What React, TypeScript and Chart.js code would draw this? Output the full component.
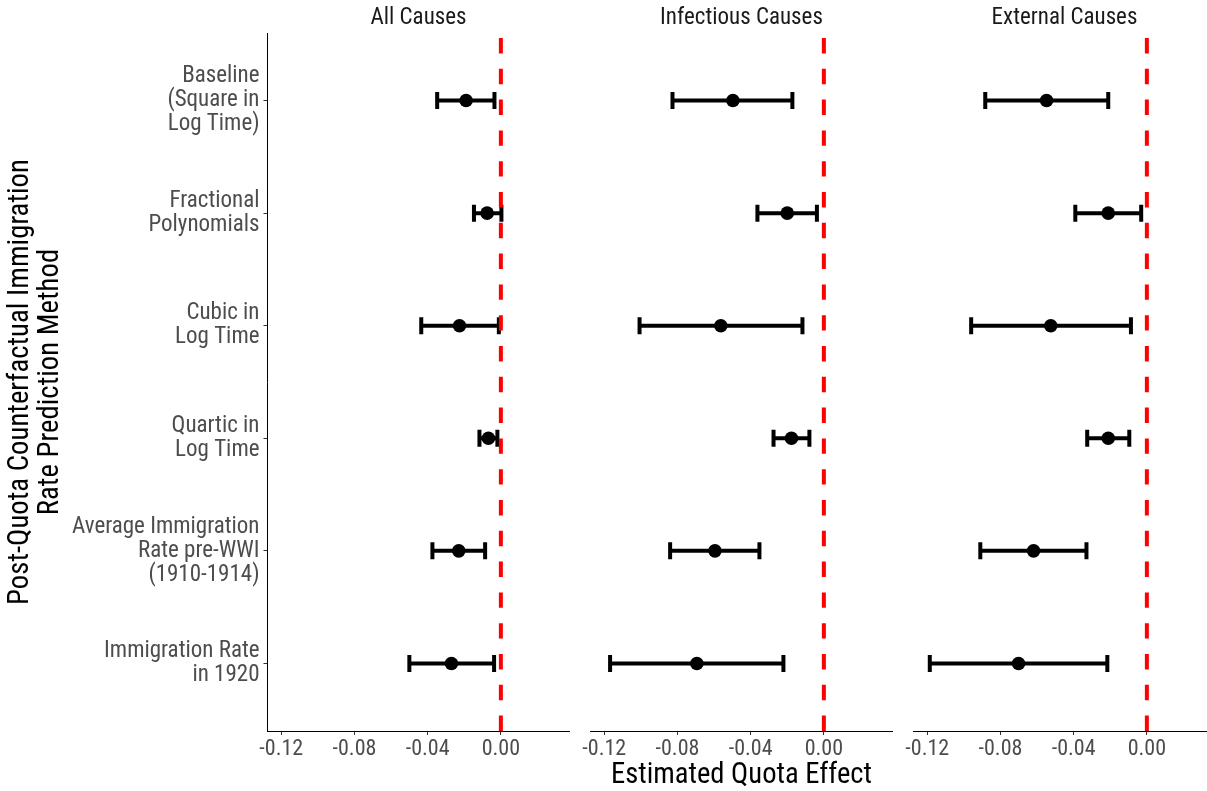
import React, { useEffect, useRef } from 'react';
import { Chart, registerables } from 'chart.js';

Chart.register(...registerables);

const FONT = '"Roboto Condensed", "Liberation Sans Narrow", "DejaVu Sans Condensed", Roboto, sans-serif';

// ---- data ----
const panelTitles = ['All Causes', 'Infectious Causes', 'External Causes'];

const categoryLabels: string[][] = [
  ['Baseline', '(Square in', 'Log Time)'],
  ['Fractional', 'Polynomials'],
  ['Cubic in', 'Log Time'],
  ['Quartic in', 'Log Time'],
  ['Average Immigration', 'Rate pre-WWI', '(1910-1914)'],
  ['Immigration Rate', 'in 1920'],
];

const allEst = [-0.0190, -0.0075, -0.0226, -0.0068, -0.0230, -0.0270];
const allLo = [-0.0348, -0.0147, -0.0435, -0.0117, -0.0374, -0.0500];
const allHi = [-0.0035, 0.0003, -0.0011, -0.0019, -0.0086, -0.0037];

const infEst = [-0.0497, -0.0200, -0.0563, -0.0177, -0.0595, -0.0694];
const infLo = [-0.0827, -0.0363, -0.1007, -0.0275, -0.0840, -0.1168];
const infHi = [-0.0172, -0.0038, -0.0117, -0.0079, -0.0352, -0.0221];

const extEst = [-0.0548, -0.0211, -0.0525, -0.0211, -0.0619, -0.0701];
const extLo = [-0.0883, -0.0391, -0.0960, -0.0326, -0.0910, -0.1186];
const extHi = [-0.0211, -0.0031, -0.0087, -0.0096, -0.0330, -0.0216];

const xTicks = [-0.12, -0.08, -0.04, 0.0];
const xTitle = 'Estimated Quota Effect';
const yTitle = ['Post-Quota Counterfactual Immigration', 'Rate Prediction Method'];
const refLine = 0;

const panelData = [
  { est: allEst, lo: allLo, hi: allHi },
  { est: infEst, lo: infLo, hi: infHi },
  { est: extEst, lo: extLo, hi: extHi },
];

// ---- layout ----
const W = 1245;
const H = 791;
const panelLeft = [267.5, 590.5, 913.5];
const panelWidth = 302;
const X_MIN = -0.1275;
const X_MAX = 0.0375;
const Y_MIN = -0.6;
const Y_MAX = categoryLabels.length - 1 + 0.6;

function buildConfig(p: number): any {
  const { est, lo, hi } = panelData[p];
  const datasets: any[] = [];

  datasets.push({
    data: [
      { x: refLine, y: Y_MAX },
      { x: refLine, y: Y_MIN },
    ],
    showLine: true,
    borderColor: '#FF0000',
    borderWidth: 4,
    borderDash: [15.4, 15.4],
    pointRadius: 0,
    order: 0,
  });

  est.forEach((v, i) => {
    datasets.push({
      data: [
        { x: lo[i], y: i },
        { x: hi[i], y: i },
      ],
      showLine: true,
      borderColor: '#000000',
      borderWidth: 4,
      pointStyle: 'line',
      rotation: 90,
      pointRotation: 90,
      pointRadius: 8.5,
      pointBorderWidth: 4,
      pointBorderColor: '#000000',
      pointBackgroundColor: '#000000',
      order: 2,
    });
  });

  datasets.push({
    data: est.map((v, i) => ({ x: v, y: i })),
    showLine: false,
    pointRadius: 6.8,
    pointBorderWidth: 0,
    pointBackgroundColor: '#000000',
    pointBorderColor: '#000000',
    order: 1,
  });

  const left = p === 0 ? 0 : panelLeft[p];
  const right = W - panelLeft[p] - panelWidth;

  const yScale: any = {
    type: 'linear',
    display: p === 0,
    min: Y_MIN,
    max: Y_MAX,
    reverse: true,
    afterBuildTicks: (s: any) => {
      s.ticks = categoryLabels.map((_, i) => ({ value: i }));
    },
    ticks: {
      callback: (v: any) => categoryLabels[Math.round(Number(v))],
      color: '#4D4D4D',
      font: { family: FONT, size: 23, lineHeight: '24px' },
      padding: 4,
      autoSkip: false,
    },
    grid: { drawOnChartArea: false, drawTicks: true, tickLength: 4, color: '#333333', lineWidth: 1 },
    border: { display: true, color: '#000000', width: 1 },
    title: {
      display: true,
      text: yTitle,
      color: '#000000',
      font: { family: FONT, size: 28.8, lineHeight: '30.5px' },
      padding: { top: 5.5, bottom: 0 },
    },
  };
  if (p === 0) {
    yScale.afterFit = (s: any) => {
      s.width = panelLeft[0];
      s.paddingTop = 0;
      s.paddingBottom = 0;
    };
  }

  return {
    type: 'scatter',
    data: { datasets },
    options: {
      responsive: false,
      maintainAspectRatio: false,
      animation: false,
      events: [],
      layout: { padding: { left, right, top: 0, bottom: 0 } },
      plugins: {
        legend: { display: false },
        tooltip: { enabled: false },
        title: {
          display: true,
          text: panelTitles[p],
          fullSize: false,
          color: '#1A1A1A',
          font: { family: FONT, size: 23, weight: 'normal', lineHeight: '26px' },
          padding: { top: 5, bottom: 2 },
        },
      },
      scales: {
        x: {
          type: 'linear',
          min: X_MIN,
          max: X_MAX,
          afterBuildTicks: (s: any) => {
            s.ticks = xTicks.map((v) => ({ value: v }));
          },
          afterFit: (s: any) => {
            s.height = 60;
            s.paddingLeft = 0;
            s.paddingRight = 0;
          },
          ticks: {
            callback: (v: any) => Number(v).toFixed(2),
            color: '#4D4D4D',
            font: { family: FONT, size: 22 },
            padding: 1,
            maxRotation: 0,
            autoSkip: false,
          },
          grid: { drawOnChartArea: false, drawTicks: true, tickLength: 4, color: '#333333', lineWidth: 1 },
          border: { display: true, color: '#000000', width: 1 },
          title: {
            display: p === 1,
            text: xTitle,
            color: '#000000',
            font: { family: FONT, size: 28.6, lineHeight: '30px' },
            padding: { top: 0, bottom: 0 },
          },
        },
        y: yScale,
      },
    },
  };
}

function Panel({ index }: { index: number }) {
  const ref = useRef<HTMLCanvasElement | null>(null);
  useEffect(() => {
    if (!ref.current) return;
    const chart = new Chart(ref.current, buildConfig(index));
    return () => chart.destroy();
  }, [index]);
  return (
    <canvas
      ref={ref}
      width={W}
      height={H}
      style={{ position: 'absolute', left: 0, top: 0, width: W, height: H }}
    />
  );
}

export default function App() {
  return (
    <div
      style={{
        position: 'absolute',
        left: 0,
        top: 0,
        width: 1207,
        height: 791,
        overflow: 'hidden',
        background: '#FFFFFF',
      }}
    >
      {panelTitles.map((_, i) => (
        <Panel key={i} index={i} />
      ))}
    </div>
  );
}
